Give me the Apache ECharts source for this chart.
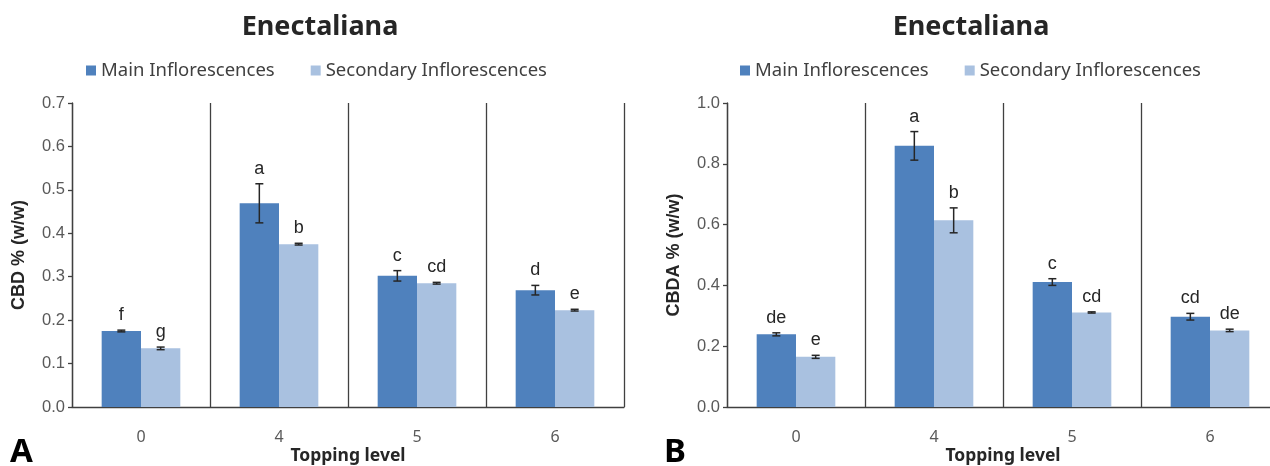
<!DOCTYPE html>
<html>
<head>
<meta charset="utf-8">
<script src="https://cdn.jsdelivr.net/npm/echarts@6/dist/echarts.min.js"></script>
<style>
  html, body { margin: 0; padding: 0; background: #fff; }
  #main { width: 1270px; height: 466px; }
</style>
</head>
<body>
<div id="main"></div>
<script>
var myChart = echarts.init(document.getElementById('main'));

var levels = ['0', '4', '5', '6'];
var seriesNames = ['Main Inflorescences', 'Secondary Inflorescences'];

// CBD (panel A)
var cbdMain = [0.175, 0.469, 0.302, 0.269];
var cbdMainErr = [0.002, 0.045, 0.012, 0.011];
var cbdSec = [0.135, 0.375, 0.285, 0.223];
var cbdSecErr = [0.003, 0.002, 0.002, 0.002];
var cbdMainLetters = ['f', 'a', 'c', 'd'];
var cbdSecLetters = ['g', 'b', 'cd', 'e'];

// CBDA (panel B)
var cbdaMain = [0.239, 0.859, 0.411, 0.297];
var cbdaMainErr = [0.005, 0.047, 0.011, 0.011];
var cbdaSec = [0.165, 0.614, 0.311, 0.252];
var cbdaSecErr = [0.005, 0.041, 0.002, 0.004];
var cbdaMainLetters = ['de', 'a', 'c', 'cd'];
var cbdaSecLetters = ['e', 'b', 'cd', 'de'];

var colMain = '#4F81BD';
var colSec = '#A9C1E0';
var dark = '#404040';
var catGap = 0.43;

// error bars + letters, one point per bar
function errData(main, mainErr, sec, secErr) {
    var d = [];
    for (var i = 0; i < main.length; i++) {
        d.push([i, main[i], mainErr[i], 0]);
        d.push([i, sec[i], secErr[i], 1]);
    }
    return d;
}
function letterList(a, b) {
    var l = [];
    for (var i = 0; i < a.length; i++) { l.push(a[i]); l.push(b[i]); }
    return l;
}

function makeRender(letters) {
    return function (params, api) {
        var cat = api.value(0), v = api.value(1), e = api.value(2), side = api.value(3);
        var catW = api.size([1, 0])[0];
        var bw = catW * (1 - catGap) / 2;
        var top = api.coord([cat, v + e]);
        var bot = api.coord([cat, v - e]);
        var x = top[0] + (side === 0 ? -bw / 2 : bw / 2);
        var st = { stroke: '#262626', lineWidth: 1.5 };
        return {
            type: 'group',
            children: [
                { type: 'line', shape: { x1: x, y1: top[1], x2: x, y2: bot[1] }, style: st },
                { type: 'line', shape: { x1: x - 4, y1: top[1], x2: x + 4, y2: top[1] }, style: st },
                { type: 'line', shape: { x1: x - 4, y1: bot[1], x2: x + 4, y2: bot[1] }, style: st },
                { type: 'text', x: x, y: top[1] - 6,
                  style: { text: letters[params.dataIndex], fill: '#262626',
                           font: '18px "Liberation Sans", Arial, sans-serif',
                           align: 'center', verticalAlign: 'bottom' } }
            ]
        };
    };
}

function xAx(gi) {
    return {
        type: 'category', gridIndex: gi, data: levels,
        name: 'Topping level', nameLocation: 'middle', nameGap: 40, nameMoveOverlap: false,
        nameTextStyle: { fontFamily: 'Noto Sans', fontWeight: 'bold', fontSize: 17.5, color: '#262626' },
        axisLine: { lineStyle: { color: dark, width: 1.3 } },
        axisTick: { show: false },
        axisLabel: { margin: 22, fontFamily: 'Noto Sans', fontSize: 16, color: '#595959' },
        splitLine: { show: true, lineStyle: { color: dark, width: 1.3 } }
    };
}
function yAx(gi, max, step, name) {
    return {
        type: 'value', gridIndex: gi, min: 0, max: max, interval: step,
        name: name, nameLocation: 'middle', nameGap: 44, nameRotate: 90,
        nameTextStyle: { fontFamily: 'Liberation Sans', fontWeight: 'bold', fontSize: 18, color: '#262626' },
        axisLine: { show: true, lineStyle: { color: dark, width: 1.3 } },
        axisTick: { show: true, inside: false, length: 4, lineStyle: { color: dark, width: 1.3 } },
        axisLabel: { margin: 7, fontFamily: 'Liberation Sans', fontSize: 16.5, color: '#595959',
                     formatter: function (v) { return v.toFixed(1); } },
        splitLine: { show: false }
    };
}

var legendStyle = { fontFamily: 'Noto Sans', fontSize: 18.5, color: '#404040' };

var option = {
    animation: false,
    title: [
        { text: 'Enectaliana', left: 315, top: 9, textAlign: 'center',
          textStyle: { fontFamily: 'Noto Sans', fontWeight: 'bold', fontSize: 27, color: '#262626' } },
        { text: 'Enectaliana', left: 966, top: 9, textAlign: 'center',
          textStyle: { fontFamily: 'Noto Sans', fontWeight: 'bold', fontSize: 27, color: '#262626' } }
    ],
    legend: [
        { data: seriesNames.map(function (n) { return { name: n, icon: 'rect' }; }),
          left: 81, top: 56, itemWidth: 10, itemHeight: 10, itemGap: 36, textStyle: legendStyle },
        { data: seriesNames.map(function (n) { return { name: n, icon: 'rect' }; }),
          left: 735, top: 56, itemWidth: 10, itemHeight: 10, itemGap: 36, textStyle: legendStyle }
    ],
    graphic: [
        { type: 'text', left: 10, top: 436, style: { text: 'A', font: 'bold 33px "Noto Sans", sans-serif', fill: '#000' } },
        { type: 'text', left: 664, top: 436, style: { text: 'B', font: 'bold 33px "Noto Sans", sans-serif', fill: '#000' } }
    ],
    grid: [
        { left: 72, right: 646, top: 103, bottom: 59, outerBoundsMode: 'none' },
        { left: 727, right: -9, top: 103, bottom: 59, outerBoundsMode: 'none' }
    ],
    xAxis: [xAx(0), xAx(1)],
    yAxis: [yAx(0, 0.7, 0.1, 'CBD % (w/w)'), yAx(1, 1.0, 0.2, 'CBDA % (w/w)')],
    series: [
        { name: seriesNames[0], type: 'bar', xAxisIndex: 0, yAxisIndex: 0, data: cbdMain,
          itemStyle: { color: colMain }, barGap: '0%', barCategoryGap: '43%' },
        { name: seriesNames[1], type: 'bar', xAxisIndex: 0, yAxisIndex: 0, data: cbdSec,
          itemStyle: { color: colSec }, barGap: '0%', barCategoryGap: '43%' },
        { name: seriesNames[0], type: 'bar', xAxisIndex: 1, yAxisIndex: 1, data: cbdaMain,
          itemStyle: { color: colMain }, barGap: '0%', barCategoryGap: '43%' },
        { name: seriesNames[1], type: 'bar', xAxisIndex: 1, yAxisIndex: 1, data: cbdaSec,
          itemStyle: { color: colSec }, barGap: '0%', barCategoryGap: '43%' },
        { name: 'errA', type: 'custom', xAxisIndex: 0, yAxisIndex: 0, z: 5, clip: false,
          data: errData(cbdMain, cbdMainErr, cbdSec, cbdSecErr),
          renderItem: makeRender(letterList(cbdMainLetters, cbdSecLetters)) },
        { name: 'errB', type: 'custom', xAxisIndex: 1, yAxisIndex: 1, z: 5, clip: false,
          data: errData(cbdaMain, cbdaMainErr, cbdaSec, cbdaSecErr),
          renderItem: makeRender(letterList(cbdaMainLetters, cbdaSecLetters)) }
    ]
};

myChart.setOption(option);
</script>
</body>
</html>
